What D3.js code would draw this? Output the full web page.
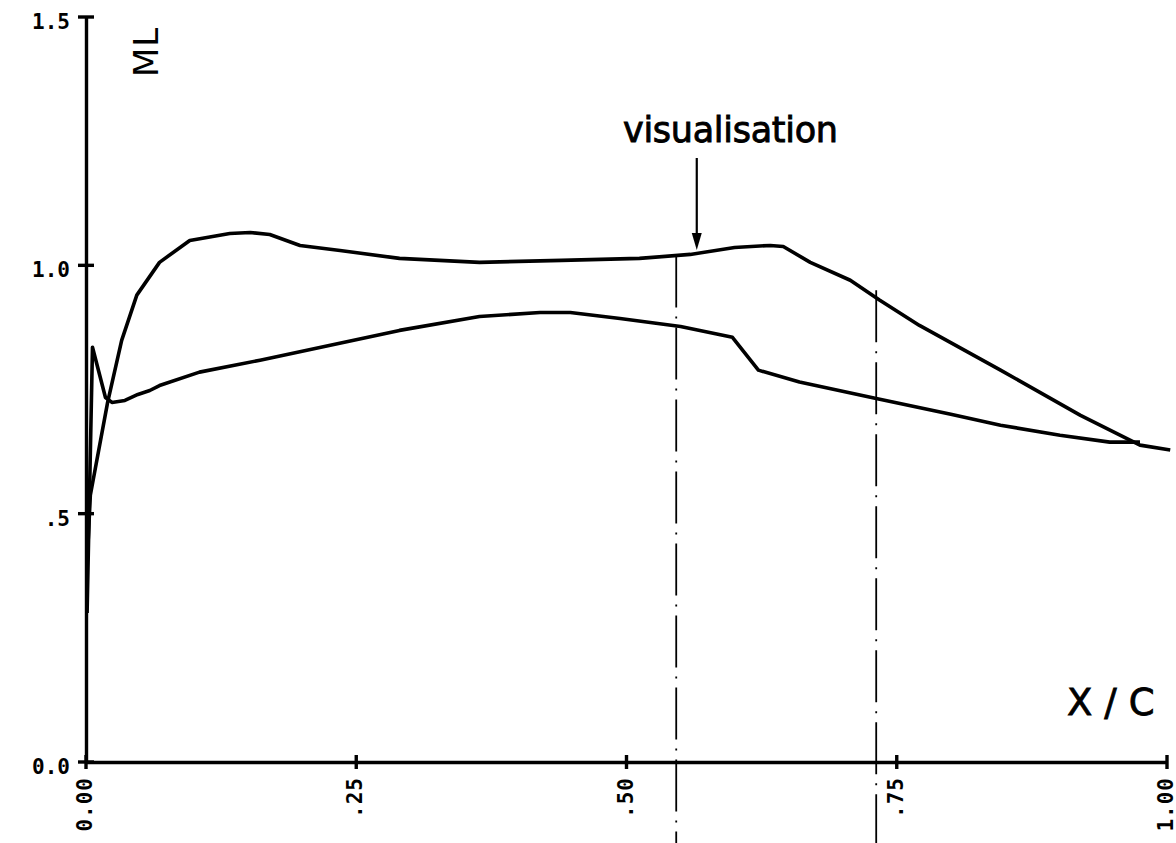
<!DOCTYPE html>
<html>
<head>
<meta charset="utf-8">
<script src="https://cdn.jsdelivr.net/npm/d3@7"></script>
<style>
  body { margin: 0; background: #fff; }
  svg { display: block; }
  .tick-label { font-family: "DejaVu Sans Mono", monospace; font-weight: bold; font-size: 21px; fill: #000; }
</style>
</head>
<body>
<svg id="main"></svg>
<script>
const width = 1176;
const height = 843;
const position = { left: 86, top: 17, right: 9, bottom: 81 };
const innerWidth = width - position.left - position.right;
const innerHeight = height - position.top - position.bottom;

// x/c positions and ML values
const upperX = [0.001, 0.004, 0.020, 0.033, 0.047, 0.068, 0.096, 0.133, 0.152, 0.170, 0.198, 0.235, 0.290, 0.364, 0.440, 0.512, 0.559, 0.600, 0.633, 0.645, 0.670, 0.707, 0.734, 0.771, 0.846, 0.920, 0.975, 1.003];
const upperML = [0.40, 0.537, 0.724, 0.849, 0.940, 1.006, 1.050, 1.064, 1.066, 1.062, 1.040, 1.030, 1.014, 1.006, 1.010, 1.014, 1.022, 1.036, 1.040, 1.038, 1.006, 0.970, 0.930, 0.879, 0.789, 0.698, 0.638, 0.628];

const lowerX = [0.001, 0.006, 0.018, 0.024, 0.036, 0.048, 0.059, 0.068, 0.105, 0.161, 0.226, 0.290, 0.364, 0.420, 0.448, 0.494, 0.550, 0.598, 0.622, 0.660, 0.731, 0.800, 0.846, 0.901, 0.947, 0.975];
const lowerML = [0.30, 0.835, 0.734, 0.724, 0.728, 0.740, 0.748, 0.758, 0.785, 0.809, 0.839, 0.869, 0.897, 0.905, 0.905, 0.893, 0.877, 0.855, 0.789, 0.765, 0.732, 0.700, 0.678, 0.658, 0.644, 0.644];

const xTicks = [0, 0.25, 0.5, 0.75, 1.0];
const xTickLabels = ['0.00', '.25', '.50', '.75', '1.00'];
const yTicks = [0, 0.5, 1.0, 1.5];
const yTickLabels = ['0.0', '.5', '1.0', '1.5'];

// visualisation window (dash-dot lines)
const windowX = [0.546, 0.731];
const windowTopML = [1.02, 0.95];
const arrowX = 0.565;

const mainSvg = d3.select('#main').attr('width', width).attr('height', height);
const mainGroup = mainSvg
    .append('g')
    .attr('transform', `translate(${position.left}, ${position.top})`);

const xScale = d3.scaleLinear().domain([0, 1]).range([0, innerWidth]);
const yScale = d3.scaleLinear().domain([0, 1.5]).range([innerHeight, 0]);

// axes, plotter style: ticks crossing the line
const xAxis = d3.axisBottom(xScale).tickValues(xTicks).tickSizeInner(0).tickSizeOuter(0).tickFormat('');
const yAxis = d3.axisLeft(yScale).tickValues(yTicks).tickSizeInner(0).tickSizeOuter(0).tickFormat('');

const gx = mainGroup.append('g').attr('transform', `translate(0,${innerHeight})`).call(xAxis);
const gy = mainGroup.append('g').call(yAxis);
[gx, gy].forEach(g => g.select('.domain').attr('stroke', '#000').attr('stroke-width', 3.4));

// tick marks
mainGroup.selectAll('.xt')
    .data(xTicks)
    .join('line')
    .attr('x1', d => xScale(d)).attr('x2', d => xScale(d))
    .attr('y1', innerHeight - 7).attr('y2', innerHeight + 7)
    .attr('stroke', '#000').attr('stroke-width', 3.4);
mainGroup.selectAll('.yt')
    .data(yTicks)
    .join('line')
    .attr('x1', -8).attr('x2', 8)
    .attr('y1', d => yScale(d)).attr('y2', d => yScale(d))
    .attr('stroke', '#000').attr('stroke-width', 3.4);

// tick labels
mainGroup.selectAll('.ylab')
    .data(yTicks)
    .join('text')
    .attr('class', 'tick-label')
    .attr('x', -16)
    .attr('y', d => yScale(d) + 12)
    .attr('text-anchor', 'end')
    .text((d, i) => yTickLabels[i]);
mainGroup.selectAll('.xlab')
    .data(xTicks)
    .join('text')
    .attr('class', 'tick-label')
    .attr('letter-spacing', 1)
    .attr('transform', d => `translate(${xScale(d) + 6},${innerHeight + 15}) rotate(-90)`)
    .attr('text-anchor', 'end')
    .text((d, i) => xTickLabels[i]);

// dash-dot window lines
mainGroup.selectAll('.win')
    .data(windowX)
    .join('line')
    .attr('x1', d => xScale(d)).attr('x2', d => xScale(d))
    .attr('y1', (d, i) => yScale(windowTopML[i]))
    .attr('y2', height - position.top)
    .attr('stroke', '#000').attr('stroke-width', 1.8)
    .attr('stroke-dasharray', '52,9,2,9');

// curves
const line = d3.line().x(d => xScale(d[0])).y(d => yScale(d[1]));
[d3.zip(upperX, upperML), d3.zip(lowerX, lowerML)].forEach(pts => {
    mainGroup.append('path')
        .datum(pts)
        .attr('d', line)
        .attr('fill', 'none').attr('stroke', '#000')
        .attr('stroke-width', 3.6).attr('stroke-linejoin', 'round');
});

// annotation arrow
const ax = xScale(arrowX);
mainGroup.append('line')
    .attr('x1', ax).attr('x2', ax)
    .attr('y1', 158 - position.top).attr('y2', 240 - position.top)
    .attr('stroke', '#000').attr('stroke-width', 2.2);
mainGroup.append('path')
    .attr('d', `M${ax - 5},${233 - position.top} L${ax + 5},${233 - position.top} L${ax},${250 - position.top} Z`)
    .attr('fill', '#000');
mainGroup.append('text')
    .attr('x', 623 - position.left).attr('y', 142 - position.top)
    .attr('font-family', 'DejaVu Sans, sans-serif')
    .attr('font-size', 35)
    .attr('stroke', '#000').attr('stroke-width', 0.9)
    .attr('textLength', 215)
    .text('visualisation');

// axis titles
mainGroup.append('text')
    .attr('transform', `translate(${158 - position.left},${77 - position.top}) rotate(-90)`)
    .attr('font-family', 'DejaVu Sans, sans-serif')
    .attr('font-size', 34)
    .attr('letter-spacing', 1)
    .text('ML');
mainGroup.append('text')
    .attr('x', 1067 - position.left).attr('y', 715 - position.top)
    .attr('font-family', 'DejaVu Sans, sans-serif')
    .attr('font-size', 37)
    .attr('stroke', '#000').attr('stroke-width', 0.8)
    .attr('letter-spacing', 12)
    .text('X/C');
</script>
</body>
</html>
